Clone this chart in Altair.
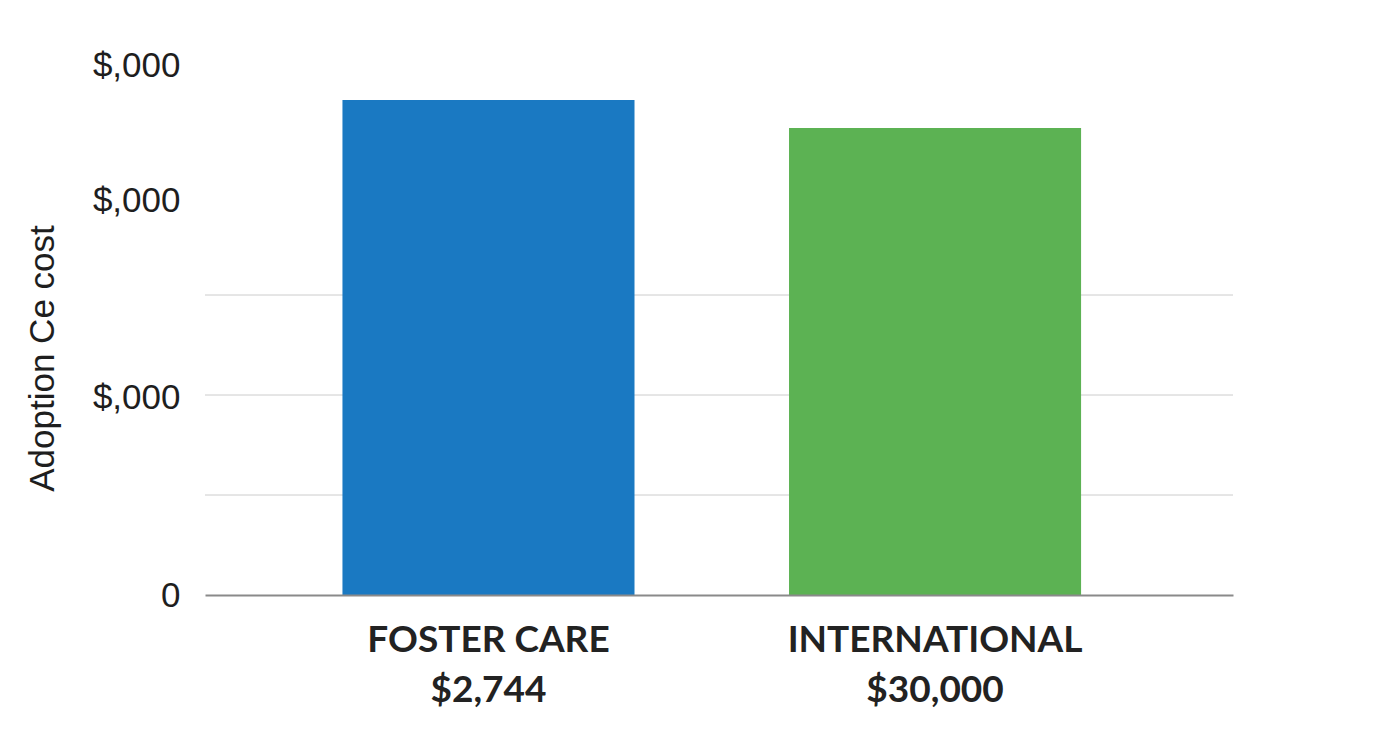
import altair as alt
import pandas as pd

# ---- data ----
categories = ["Foster Care", "International"]
cost_labels = ["$2,744", "$30,000"]
bar_heights = [49.5, 46.7]          # bar heights in the chart's own (unlabelled) units
bar_colors = ["#1a79c2", "#5cb253"]
grid_values = [10, 20, 30]
y_tick_values = [0, 19.75, 39.5, 53]
y_tick_labels = ["0", "$,000", "$,000", "$,000"]
y_title = "Adoption Ce cost"

df = pd.DataFrame({"category": categories, "value": bar_heights, "color": bar_colors})
grid_df = pd.DataFrame({"g": grid_values})

x_expr = " : ".join(
    f"datum.value == '{c}' ? ['{c.upper()}', '{l}']" for c, l in zip(categories, cost_labels)
) + " : datum.value"
y_expr = " : ".join(
    f"datum.value == {v} ? '{l}'" for v, l in zip(y_tick_values, y_tick_labels)
) + " : ''"

y_scale = alt.Scale(domain=[0, 53], nice=False, zero=True)
x_scale = alt.Scale(paddingInner=0.346, paddingOuter=0.324, align=0.475)

y_axis = alt.Axis(
    title=y_title,
    values=y_tick_values,
    labelExpr=y_expr,
    labelFont="Liberation Sans",
    labelFontSize=35,
    labelColor="#1e1e1e",
    labelPadding=25,
    ticks=False,
    tickSize=0,
    domain=False,
    grid=False,
    titleFont="Liberation Sans",
    titleFontSize=35,
    titleFontWeight="normal",
    titleColor="#1e1e1e",
    titleAngle=270,
    titleAlign="center",
    titleBaseline="middle",
    titleX=-163,
    titleY=293,
)

grid = alt.Chart(grid_df).mark_rule(color="#cccccc", strokeWidth=1).encode(
    y=alt.Y("g:Q", scale=y_scale, axis=y_axis)
)

bars = alt.Chart(df).mark_bar().encode(
    x=alt.X(
        "category:N",
        sort=categories,
        scale=x_scale,
        axis=alt.Axis(
            title=None,
            labelAngle=0,
            labelExpr=x_expr,
            labelFont="Lato",
            labelFontWeight="bold",
            labelFontSize=37,
            labelColor="#222222",
            labelLineHeight=50,
            labelBaseline="top",
            labelPadding=27,
            labelLimit=0,
            labelOverlap=False,
            ticks=False,
            tickSize=0,
            domain=True,
            domainColor="#8a8a8a",
            domainWidth=2,
            zindex=1,
        ),
    ),
    y=alt.Y("value:Q", scale=y_scale, axis=y_axis),
    color=alt.Color("color:N", scale=None),
)

chart = (
    alt.layer(grid, bars)
    .properties(
        width=1028,
        height=530,
        autosize=alt.AutoSizeParams(type="none"),
        padding={"left": 197, "top": 57, "right": 150, "bottom": 140},
        view=alt.ViewBackground(strokeOpacity=0, strokeWidth=0),
    )
    .configure_view(strokeOpacity=0, strokeWidth=0)
    .configure_axis(grid=False)
    .configure(background="white")
)

chart.save("out.html", embed_options={"renderer": "svg", "actions": False})
